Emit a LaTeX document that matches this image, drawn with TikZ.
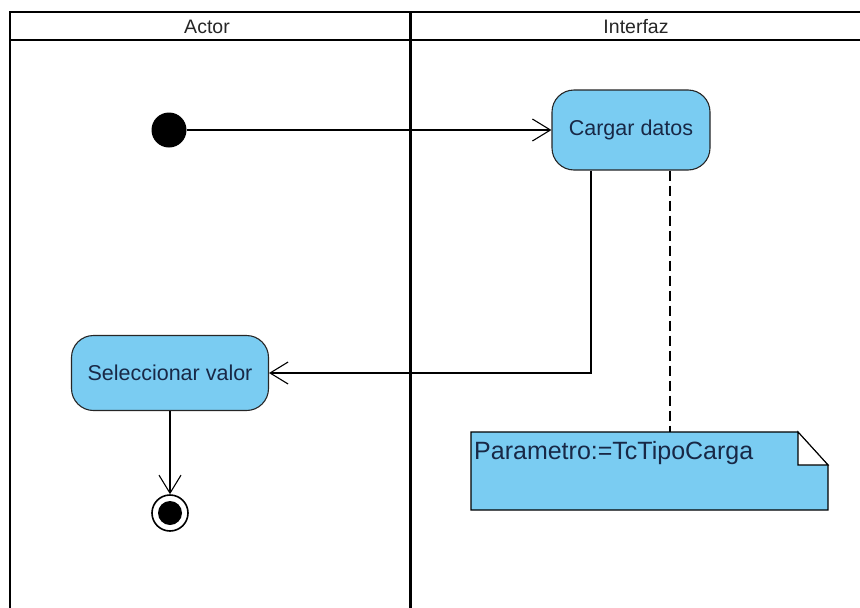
\documentclass[tikz,border=0pt]{standalone}
\usepackage{fontspec}
\setmainfont{Liberation Sans}
\usetikzlibrary{arrows.meta}
\definecolor{actfill}{RGB}{122,204,242}
\definecolor{acttext}{RGB}{24,40,70}
\tikzset{
  activity/.style={draw=black!85, line width=1.1pt, fill=actfill, rounded corners=22pt, text=acttext, font=\fontsize{21.5}{24}\selectfont, inner sep=0pt},
  flow/.style={draw=black, line width=1.1pt, -{Straight Barb[length=18pt,width=22pt,line width=1.1pt]}},
  lane/.style={draw=black, line width=2pt},
  hdr/.style={font=\fontsize{19.5}{22}\selectfont, text=black!85},
}
\begin{document}
\begin{tikzpicture}[x=1pt,y=-1pt]
\useasboundingbox (0,0) rectangle (860,608);
% swimlanes
\draw[lane] (10,612) -- (10,12) -- (864,12);
\draw[lane] (10,40) -- (864,40);
\draw[lane, line width=3pt] (410,12) -- (410,612);
\node[hdr] (hactor) at (207,27) {Actor};
\node[hdr] (hint) at (636,27) {Interfaz};
% nodes
\node[circle, fill=black, minimum size=35pt, inner sep=0pt] (start) at (169,130) {};
\node[activity, minimum width=158pt, minimum height=80pt] (cargar) at (631,130) {Cargar datos};
\node[activity, minimum width=197pt, minimum height=75pt] (sel) at (170,373) {Seleccionar valor};
\node[circle, draw=black, line width=1.6pt, fill=white, minimum size=36pt, inner sep=0pt] (end) at (170,513) {};
\node[circle, fill=black, minimum size=24pt, inner sep=0pt] (endin) at (end) {};
% note
\coordinate (nA) at (471,432);
\coordinate (nB) at (798,432);
\coordinate (nC) at (828,465);
\coordinate (nD) at (828,510);
\coordinate (nE) at (471,510);
\draw[line width=1.1pt, fill=actfill] (nA) -- (nB) -- (nC) -- (nD) -- (nE) -- cycle;
\draw[line width=1.1pt, fill=white] (nB) -- (nC) -- (798,465) -- cycle;
\node[anchor=west, text=acttext, font=\fontsize{25}{27}\selectfont, inner sep=0pt] (note) at (474,453) {Parametro:=TcTipoCarga};
\coordinate (ntop) at (670,432);
% connectors
\draw[flow] (start.east) -- (cargar.west);
\draw[flow] (cargar.south -| 591,0) -- (591,373) -- (sel.east);
\draw[flow] (sel.south) -- (end.north);
\draw[line width=1.1pt, dash pattern=on 10pt off 5pt] (cargar.south -| ntop) -- (ntop);
\end{tikzpicture}
\end{document}
